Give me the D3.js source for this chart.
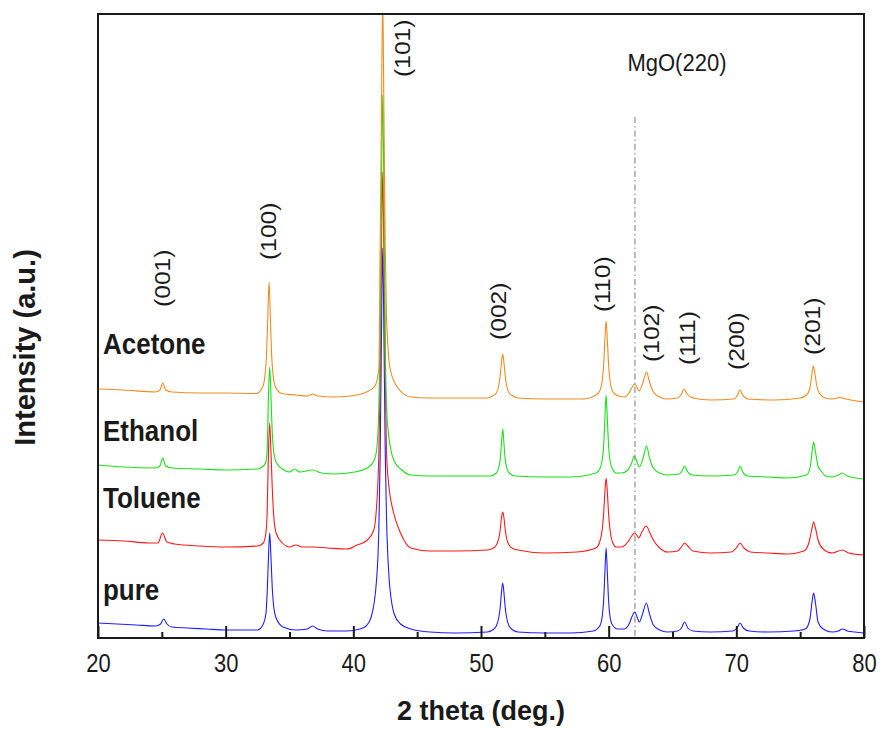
<!DOCTYPE html>
<html>
<head>
<meta charset="utf-8">
<script src="https://cdn.jsdelivr.net/npm/d3@7"></script>
<style>
  html, body { margin: 0; padding: 0; background: #fff; }
  svg text { font-family: "Liberation Sans", Arial, Helvetica, sans-serif; fill: #1a1a1a; }
</style>
</head>
<body>
<div id="vis"></div>
<script>
// XRD patterns, [2 theta (deg), intensity (a.u.)]
const pure = [[20,15],[21.5,14],[23,13],[24.5,12],[24.9,14],[25.15,19],[25.4,14],[25.8,11],[27,10],[28.5,9],[30,8],[32.5,8],
  [32.95,14],[33.15,24],[33.25,45],[33.35,80],[33.45,105],[33.55,80],[33.65,50],[33.75,33],[33.95,20],[34.5,11],[35.5,8],
  [36.4,9],[36.8,12],[37.2,9],[38,7],[39.5,7],[40.5,9],[41.0,12],[41.4,21],[41.8,55],[42.0,110],[42.1,180],[42.2,300],
  [42.3,390],[42.4,300],[42.5,185],[42.6,120],[42.8,60],[43.2,24],[43.7,14],[44.5,9],[46,6],[48,5],[50.5,6],[50.9,8],
  [51.2,12],[51.4,21],[51.5,30],[51.6,45],[51.7,55],[51.8,45],[51.9,30],[52.0,21],[52.2,12],[52.5,8],[52.9,6],[55,5],
  [57,5],[58.8,7],[59.3,12],[59.5,22],[59.6,36],[59.7,64],[59.8,90],[59.9,64],[60.0,36],[60.1,22],[60.3,13],[60.7,9],
  [61.2,9],[61.6,14],[61.85,22],[62.05,26],[62.25,20],[62.4,16],[62.65,24],[62.95,35],[63.2,24],[63.5,13],[64.0,8],
  [64.6,6],[65.4,7],[65.7,10],[65.95,16],[66.2,10],[66.6,7],[68,6],[69.7,7],[70.05,10],[70.3,15],[70.55,10],[71.0,7],
  [72.5,6],[74.5,7],[75.4,9],[75.75,18],[75.95,38],[76.05,45],[76.2,35],[76.4,16],[76.8,9],[77.5,6],[78.0,7],[78.3,9],
  [78.7,7],[79.3,6],[80,5]];

const toluene = [[20,98],[22,97],[24,95],[24.7,95],[25.05,105],[25.4,96],[26,94],[28,92],[30,91],[32.5,92],[32.95,95],
  [33.15,105],[33.25,125],[33.35,185],[33.45,215],[33.55,185],[33.65,150],[33.75,125],[33.95,105],[34.45,95],[35,91],
  [35.5,93],[36,91],[36.8,91],[38,90],[39.5,89],[40.3,93],[41.1,98],[41.6,108],[41.8,128],[42.0,185],[42.1,260],
  [42.2,380],[42.3,466],[42.4,380],[42.5,260],[42.6,185],[42.8,150],[43.1,128],[43.7,105],[44.5,90],[46,87],[48,87],
  [50.5,88],[50.9,89.5],[51.2,93],[51.4,100],[51.5,108],[51.6,120],[51.7,126],[51.8,120],[51.9,108],[52.0,100],[52.2,93],
  [52.5,89.5],[52.9,88],[55,85],[57.5,86],[59.0,90],[59.3,96],[59.5,109],[59.6,123],[59.7,145],[59.8,160],[59.9,145],
  [60.0,123],[60.1,109],[60.3,96],[60.6,91],[61.0,91],[61.5,96],[61.8,102],[62.0,105],[62.2,103],[62.35,100],[62.6,106],
  [62.95,112],[63.2,106],[63.5,98],[64.0,90],[64.6,86],[65.4,87],[65.7,91],[65.95,95],[66.2,92],[66.6,87],[68,85],
  [69.6,86],[70.0,90],[70.3,95],[70.6,90],[71.1,86],[72.5,85],[74,84],[75.3,87],[75.7,96],[75.9,108],[76.05,116],
  [76.2,110],[76.4,98],[76.8,89],[77.5,85],[78.3,88],[78.8,85],[80,83]];

const ethanol = [[20,173],[22,171],[24.5,170],[24.85,172],[25.07,180],[25.3,172],[25.8,170],[28,169],[30,168],[32.45,169],
  [32.95,172],[33.15,176],[33.25,188],[33.35,241],[33.45,271],[33.55,241],[33.65,205],[33.75,188],[33.95,176],[34.45,169],
  [35.0,166],[35.4,169],[35.8,166],[36.8,168],[37.5,165],[38.5,164],[40.1,166],[41.1,170],[41.65,178],[41.85,191],
  [42.0,230],[42.1,300],[42.2,440],[42.3,543],[42.4,440],[42.5,300],[42.6,230],[42.9,191],[43.2,177],[43.8,168],
  [44.5,163],[46,162],[48,162],[50.7,162],[51.2,165],[51.4,171],[51.5,178],[51.6,194],[51.7,209],[51.8,194],[51.9,178],
  [52.0,171],[52.2,165],[52.7,162],[55,161],[57,161],[59.0,165],[59.3,169],[59.5,178],[59.6,191],[59.7,218],[59.8,243],
  [59.9,218],[60.0,191],[60.1,178],[60.3,169],[60.6,165],[61.0,165],[61.5,168],[61.8,175],[62.0,182],[62.2,177],
  [62.4,171],[62.7,180],[62.97,192],[63.2,180],[63.5,170],[64.0,165],[64.5,163],[65.5,164],[65.75,167],[65.95,172],
  [66.15,167],[66.5,163],[68,162],[69.8,163],[70.1,166],[70.3,172],[70.5,166],[70.9,162],[72.5,161],[74,160],[75.5,163],
  [75.8,172],[75.95,188],[76.05,196],[76.2,186],[76.4,172],[76.7,166],[77.0,162],[77.5,161],[78.0,163],[78.3,165],
  [78.7,162],[80,159]];

const acetone = [[20,249],[22,248],[24.5,246],[24.85,248],[25.07,255],[25.3,248],[25.8,246],[28,245],[30,245],[32.4,244.5],
  [32.9,251],[33.1,265],[33.2,283],[33.3,321],[33.4,356],[33.5,321],[33.6,283],[33.7,265],[33.9,251],[34.4,244.5],
  [35.5,243],[36.4,242],[36.8,244],[37.2,242],[38.5,241],[40.3,243],[41.2,247],[41.7,252],[42.0,270],[42.1,390],
  [42.2,520],[42.3,640],[42.4,520],[42.5,390],[42.6,320],[42.9,268],[43.5,250],[44.5,241],[46,240],[48,240],[50.5,240],
  [50.9,242],[51.2,245],[51.4,253],[51.5,262],[51.6,275],[51.7,284],[51.8,275],[51.9,262],[52.0,253],[52.2,245],
  [52.5,242],[52.9,240],[55,239],[58,239],[59.0,243],[59.3,247],[59.5,258],[59.6,272],[59.7,297],[59.8,317],[59.9,297],
  [60.0,272],[60.1,258],[60.3,247],[60.6,243],[61.2,241],[61.6,245],[61.85,251],[62.05,254],[62.25,250],[62.38,247],
  [62.7,256],[62.97,266],[63.2,256],[63.5,246],[64.0,241],[64.5,239],[65.4,240],[65.7,244],[65.9,249],[66.15,244],
  [66.6,240],[68,238],[69.8,239],[70.1,243],[70.28,248],[70.5,243],[70.9,239],[73,238],[75.0,240],[75.5,243],[75.75,249],
  [75.9,262],[76.03,272],[76.15,265],[76.3,252],[76.55,244],[76.95,240],[77.5,239],[78.1,240.5],[78.6,239],[80,236]];

const sampleNames = ["pure", "Toluene", "Ethanol", "Acetone"];
const sampleColors = ["#1f1fff", "#ff1a1a", "#19e019", "#f08c1e"];
const sampleLabelLevel = [38, 130, 197, 284];   // a.u. at which each name sits

// (hkl) annotations: text, 2 theta of the label, intensity (a.u.) of its lower end
const hklText = ["(001)", "(100)", "(101)", "(002)", "(110)", "(102)", "(111)", "(200)", "(201)"];
const hklTheta = [24.99, 33.32, 43.79, 51.35, 59.45, 63.29, 66.16, 69.97, 75.9];
const hklLevel = [331, 378, 561, 298, 326, 276, 273, 268, 283];

const mgoTheta = 62.06;
const mgoLineTop = 521;
const mgoLabel = "MgO(220)";
const mgoLabelTheta = 65.35;
const mgoLabelLevel = 567;

const majorTicks = [20, 30, 40, 50, 60, 70, 80];
const minorTicks = [25, 35, 45, 55, 65, 75];

const width = 880;
const height = 729;
const margin = { top: 14, right: 16, bottom: 91, left: 98 };

const svg = d3.select('#vis')
    .append('svg')
    .attr('width', width)
    .attr('height', height);

function createVis() {
    const x = d3.scaleLinear().domain([20, 80]).range([margin.left, width - margin.right]);
    const y = d3.scaleLinear().domain([0, 624]).range([height - margin.bottom, margin.top]);

    svg.append('clipPath').attr('id', 'plot-clip')
        .append('rect')
        .attr('x', margin.left).attr('y', margin.top)
        .attr('width', width - margin.left - margin.right)
        .attr('height', height - margin.top - margin.bottom);

    // MgO reference line
    svg.append('line')
        .attr('x1', x(mgoTheta)).attr('x2', x(mgoTheta))
        .attr('y1', y(mgoLineTop)).attr('y2', y(0))
        .attr('stroke', '#7a7a7a')
        .attr('stroke-width', 1)
        .attr('stroke-dasharray', '6,3,1.5,3');

    const line = d3.line()
        .x(d => x(d[0]))
        .y(d => y(d[1]))
        .curve(d3.curveMonotoneX);

    const series = [pure, toluene, ethanol, acetone];

    svg.append('g')
        .attr('clip-path', 'url(#plot-clip)')
        .selectAll('path')
        .data(series)
        .join('path')
        .attr('fill', 'none')
        .attr('stroke', (d, i) => sampleColors[i])
        .attr('stroke-width', 1.1)
        .attr('d', line);

    // sample names
    svg.append('g')
        .selectAll('text')
        .data(sampleNames)
        .join('text')
        .attr('transform', (d, i) => `translate(${margin.left + 5},${y(sampleLabelLevel[i])}) scale(1,1.15)`)
        .attr('font-size', 26)
        .attr('font-weight', 'bold')
        .text(d => d);

    // peak indices
    svg.append('g')
        .selectAll('text')
        .data(hklText)
        .join('text')
        .attr('transform', (d, i) => `translate(${x(hklTheta[i])},${y(hklLevel[i])}) scale(1,1.12) rotate(-90)`)
        .attr('dy', '0.36em')
        .attr('font-size', 22)
        .text(d => d);

    svg.append('text')
        .attr('transform', `translate(${x(mgoLabelTheta)},${y(mgoLabelLevel)}) scale(1,1.1)`)
        .attr('text-anchor', 'middle')
        .attr('font-size', 22)
        .text(mgoLabel);

    // bottom axis, ticks pointing inward
    const axisY = height - margin.bottom;
    const xAxis = svg.append('g')
        .attr('transform', `translate(0,${axisY})`)
        .call(d3.axisBottom(x).tickValues(majorTicks).tickSizeInner(-12).tickSizeOuter(0).tickFormat(d3.format('d')));
    xAxis.select('.domain').remove();
    xAxis.selectAll('line').attr('stroke', '#1a1a1a').attr('stroke-width', 2);
    xAxis.selectAll('text')
        .attr('y', null).attr('dy', null)
        .attr('transform', 'translate(0,34) scale(1,1.15)')
        .attr('font-size', 22)
        .attr('fill', '#1a1a1a');

    const minor = svg.append('g')
        .attr('transform', `translate(0,${axisY})`)
        .call(d3.axisBottom(x).tickValues(minorTicks).tickSizeInner(-6).tickSizeOuter(0).tickFormat(''));
    minor.select('.domain').remove();
    minor.selectAll('line').attr('stroke', '#1a1a1a').attr('stroke-width', 2);

    // frame
    svg.append('rect')
        .attr('x', margin.left).attr('y', margin.top)
        .attr('width', width - margin.left - margin.right)
        .attr('height', height - margin.top - margin.bottom)
        .attr('fill', 'none')
        .attr('stroke', '#1a1a1a')
        .attr('stroke-width', 2);

    // axis titles
    svg.append('text')
        .attr('transform', `translate(${(margin.left + width - margin.right) / 2},720) scale(1,1.05)`)
        .attr('text-anchor', 'middle')
        .attr('font-size', 27)
        .attr('font-weight', 'bold')
        .text('2 theta (deg.)');

    svg.append('text')
        .attr('transform', 'translate(24.5,347.5) rotate(-90)')
        .attr('text-anchor', 'middle')
        .attr('dy', '0.36em')
        .attr('font-size', 29)
        .attr('font-weight', 'bold')
        .text('Intensity (a.u.)');
}

function init() {
    createVis();
}

window.addEventListener('load', init);
</script>
</body>
</html>
